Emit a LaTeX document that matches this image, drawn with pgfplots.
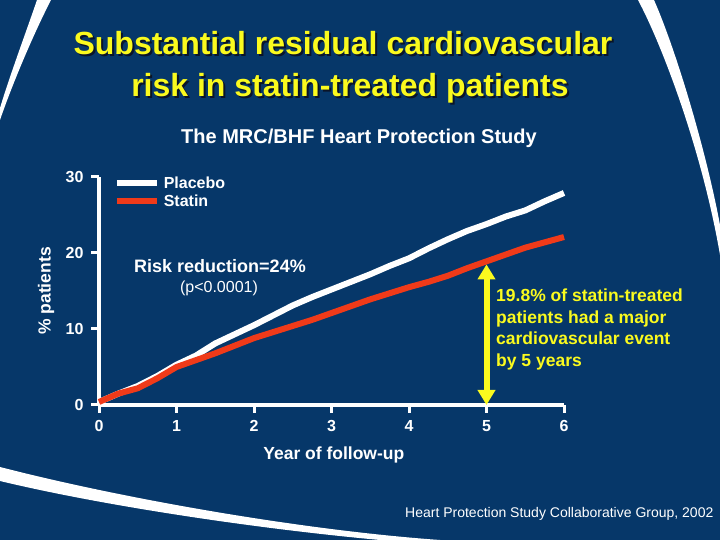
\documentclass[border=0pt]{standalone}
\usepackage{pgfplots}
\pgfplotsset{compat=1.18}
\usetikzlibrary{arrows.meta}
\usepackage{fontspec}
\setmainfont{Liberation Sans}
\definecolor{bg}{RGB}{6,55,105}
\definecolor{ylw}{RGB}{250,250,30}
\definecolor{redl}{RGB}{240,58,25}
\definecolor{shadowc}{RGB}{10,20,40}

\begin{document}
\begin{tikzpicture}[x=1bp,y=1bp]
\fill[bg] (0,0) rectangle (720,540);
% decorative white swooshes (pixel coordinates, y downwards)
\begin{scope}[shift={(0,540)}, yscale=-1]
\fill[white] (37,0) .. controls (25,35) and (10,75) .. (0,108) -- (0,120) .. controls (12,85) and (33,35) .. (51,0) -- cycle;
\fill[white] (638,0) .. controls (662,45) and (702,150) .. (720,255) -- (720,225) .. controls (706,150) and (676,50) .. (654,0) -- cycle;
\fill[white] (0,467) .. controls (120,498) and (300,530) .. (440,540) -- (380,540) .. controls (250,528) and (100,505) .. (0,481) -- cycle;
\end{scope}

\begin{axis}[
  at={(99bp,135bp)}, anchor=south west,
  scale only axis, width=465bp, height=228bp,
  xmin=0, xmax=6, ymin=0, ymax=30,
  axis x line*=bottom, axis y line*=left,
  axis line style={white, line width=3.5bp},
  xtick={0,1,2,3,4,5,6}, ytick={0,10,20,30},
  tick align=outside, major tick length=8bp,
  tick style={white, line width=3bp},
  ticklabel style={text=white, font=\fontsize{16bp}{16bp}\selectfont\bfseries},
  xticklabel style={yshift=-4bp},
  yticklabel style={xshift=-4bp},
  /pgf/number format/assume math mode=true,
  clip=false,
  xlabel={Year of follow-up}, ylabel={\% patients},
  label style={text=white, font=\fontsize{17.5bp}{17.5bp}\selectfont\bfseries},
  xlabel style={at={(axis description cs:0.505,-0.219)}, anchor=center},
  ylabel style={at={(axis description cs:-0.114,0.5)}, anchor=center},
  legend style={draw=none, fill=none, at={(axis description cs:0.025,1.012)}, anchor=north west,
    font=\fontsize{16bp}{16bp}\selectfont\bfseries, text=white, nodes={inner sep=0pt},
    column sep=4bp, row sep=5bp},
  legend cell align=left,
  legend image code/.code={\draw[#1] (0bp,0bp) -- (40bp,0bp);},
]
\addplot[white, line width=6bp] coordinates {
(0,0.4) (0.25,1.5) (0.5,2.5) (0.75,3.8) (1,5.3) (1.25,6.5) (1.5,8.1) (1.75,9.3)
(2,10.5) (2.25,11.8) (2.5,13.1) (2.75,14.2) (3,15.2) (3.25,16.2) (3.5,17.2) (3.75,18.3)
(4,19.3) (4.25,20.6) (4.5,21.8) (4.75,22.9) (5,23.8) (5.25,24.8) (5.5,25.6) (5.75,26.8) (6,27.9)
};
\addlegendentry{Placebo}
\addplot[redl, line width=6bp] coordinates {
(0,0.4) (0.25,1.5) (0.5,2.2) (0.75,3.5) (1,5.0) (1.25,5.9) (1.5,6.8) (1.75,7.8)
(2,8.8) (2.25,9.6) (2.5,10.4) (2.75,11.2) (3,12.1) (3.25,13.0) (3.5,13.9) (3.75,14.7)
(4,15.5) (4.25,16.2) (4.5,17.0) (4.75,18.0) (5,18.9) (5.25,19.8) (5.5,20.7) (5.75,21.4) (6,22.1)
};
\addlegendentry{Statin}
\draw[ylw, line width=6bp, {Triangle[width=17bp,length=15bp]}-{Triangle[width=17bp,length=15bp]}] (axis cs:5,0) -- (axis cs:5,18.5);
\end{axis}

% titles
\node[anchor=base, inner sep=0pt, font=\fontsize{32bp}{32bp}\selectfont\bfseries, text=shadowc] at (345,483) {Substantial residual cardiovascular};
\node[anchor=base, inner sep=0pt, font=\fontsize{32bp}{32bp}\selectfont\bfseries, text=ylw] at (343,485) {Substantial residual cardiovascular};
\node[anchor=base, inner sep=0pt, font=\fontsize{32bp}{32bp}\selectfont\bfseries, text=shadowc] at (352,441) {risk in statin-treated patients};
\node[anchor=base, inner sep=0pt, font=\fontsize{32bp}{32bp}\selectfont\bfseries, text=ylw] at (350,443) {risk in statin-treated patients};
\node[anchor=base, inner sep=0pt, font=\fontsize{20bp}{20bp}\selectfont\bfseries, text=white] at (359,396) {The MRC/BHF Heart Protection Study};

% annotations
\node[anchor=base, inner sep=0pt, font=\fontsize{18bp}{18bp}\selectfont\bfseries, text=white] at (220,267) {Risk reduction=24\%};
\node[anchor=base, inner sep=0pt, font=\fontsize{16bp}{16bp}\selectfont, text=white] at (219,247) {(p<0.0001)};
\begin{scope}[every node/.style={anchor=base west, inner sep=0pt, font=\fontsize{17.5bp}{17.5bp}\selectfont\bfseries, text=ylw}]
\node at (496,238) {19.8\% of statin-treated};
\node at (496,216.5) {patients had a major};
\node at (496,195) {cardiovascular event};
\node at (496,173.5) {by 5 years};
\end{scope}
\node[anchor=base west, inner sep=0pt, font=\fontsize{14bp}{14bp}\selectfont, text=white] at (405,22) {Heart Protection Study Collaborative Group, 2002};
\end{tikzpicture}
\end{document}
